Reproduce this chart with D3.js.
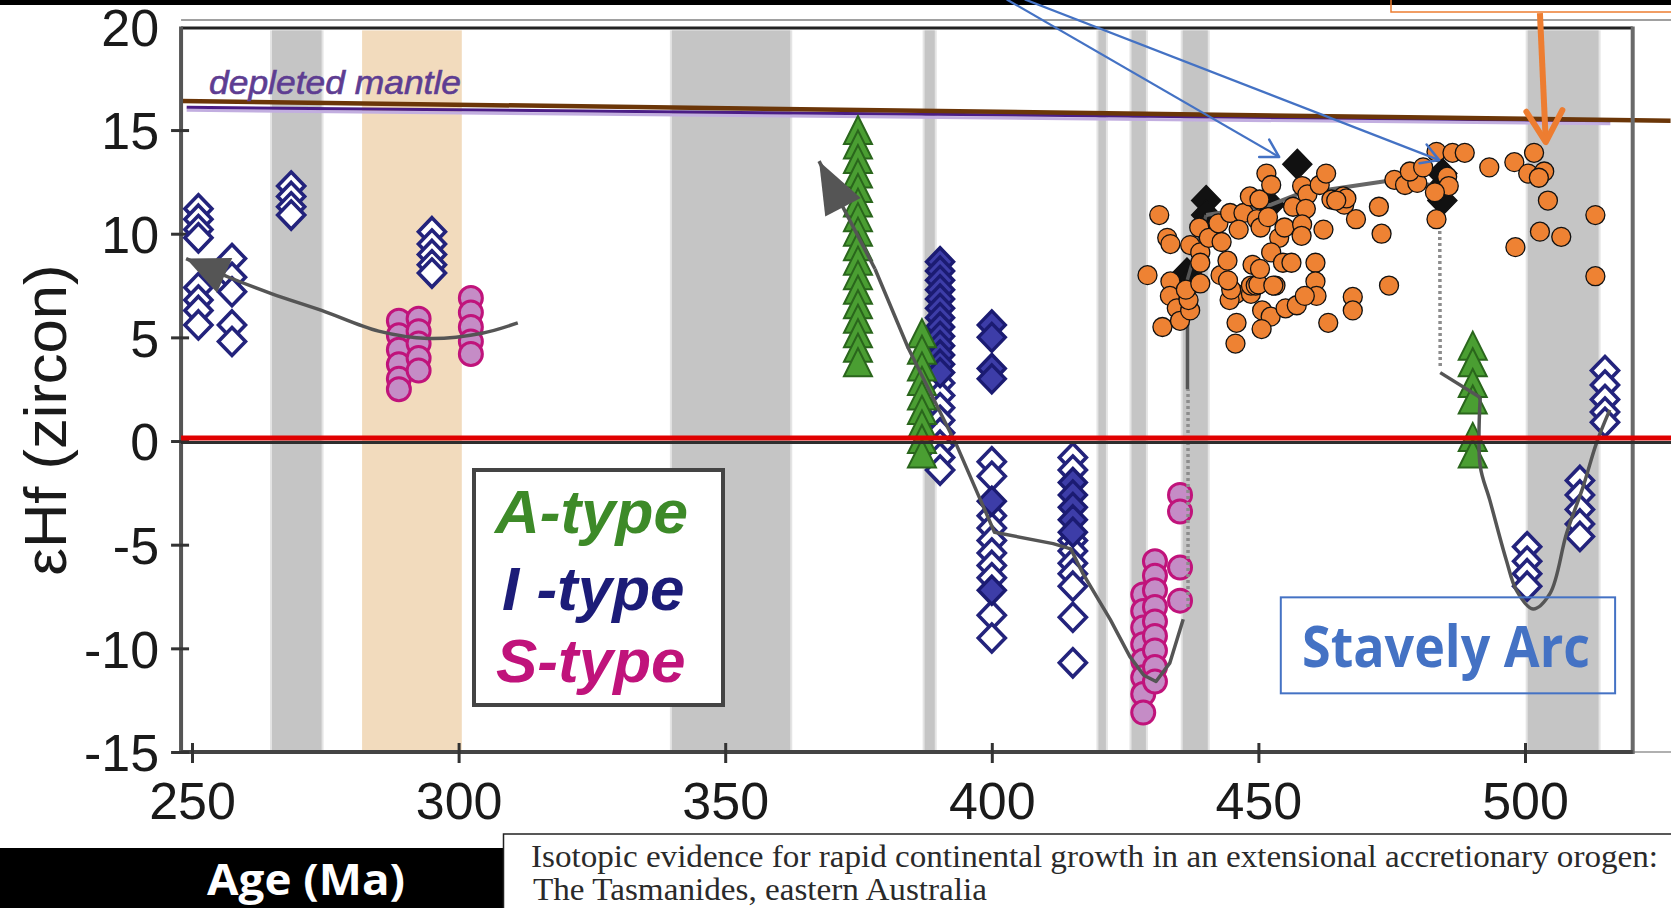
<!DOCTYPE html>
<html>
<head>
<meta charset="utf-8">
<script src="https://cdn.jsdelivr.net/npm/d3@7/dist/d3.min.js"></script>
<style>
  html, body { margin: 0; padding: 0; background: #fff; overflow: hidden; }
  svg { display: block; }
</style>
</head>
<body>
<svg id="chart" width="1671" height="908"></svg>
<script>
// ---- Axis ticks ----
const xTicks = [250, 300, 350, 400, 450, 500];
const yTicks = [20, 15, 10, 5, 0, -5, -10, -15];

// ---- Shaded age intervals (Ma) ----
const grayBands = [[265, 274.3], [340, 362.2], [387.4, 389.3], [420, 421.4], [426.2, 428.9], [435.8, 440.5], [500.5, 513.8]];
const peachBands = [[281.9, 300.6]];

// ---- Reference evolution lines: [age, εHf] ----
const depletedMantle = [[249, 16.1], [516, 15.45]];
const mantleRefLine = [[248, 16.4], [527.3, 15.45]];

// ---- I-type granites (open and filled diamonds) ----
const iTypeOpen = [
  [251.2, 11.2], [251.2, 10.7], [251.2, 10.2], [251.2, 9.8], [251.2, 7.4], [251.2, 6.8], [251.2, 6.3], [251.2, 5.6],
  [257.5, 8.8], [257.5, 7.9], [257.5, 7.2], [257.5, 5.6], [257.5, 4.8],
  [268.6, 12.3], [268.6, 11.8], [268.6, 11.3], [268.6, 10.9],
  [295, 10.1], [295, 9.5], [295, 9.0], [295, 8.5], [295, 8.1],
  [390.3, 2.8], [390.3, 2.2], [390.3, 1.6], [390.3, 1.0], [390.3, 0.4], [390.3, -0.2], [390.3, -0.8], [390.3, -1.4],
  [400, -1.0], [400, -1.7], [400, -3.6], [400, -4.2], [400, -4.8], [400, -5.4], [400, -6.0], [400, -6.6], [400, -8.4], [400, -9.5],
  [415.2, -0.8], [415.2, -1.4], [415.2, -4.8], [415.2, -5.3], [415.2, -5.9], [415.2, -6.4], [415.2, -7.0], [415.2, -8.5], [415.2, -10.7],
  [500.4, -5.1], [500.4, -5.8], [500.4, -6.4], [500.4, -7.0],
  [510.3, -1.9], [510.3, -2.6], [510.3, -3.3], [510.3, -4.0], [510.3, -4.6],
  [515, 3.4], [515, 2.7], [515, 2.0], [515, 1.4], [515, 0.9]
];
const iTypeFilled = [
  [390.3, 8.65], [390.3, 8.2], [390.3, 7.75], [390.3, 7.3], [390.3, 6.85], [390.3, 6.4], [390.3, 5.95],
  [390.3, 5.5], [390.3, 5.05], [390.3, 4.6], [390.3, 4.15], [390.3, 3.7], [390.3, 3.3],
  [400, 5.6], [400, 5.0], [400, 3.5], [400, 3.0], [400, -2.9], [400, -7.2],
  [415.2, -2.0], [415.2, -2.6], [415.2, -3.2], [415.2, -3.8], [415.2, -4.4]
];

// ---- S-type granites (circles) ----
const sType = [
  [288.8, 5.8], [288.8, 5.1], [288.8, 4.4], [288.8, 3.7], [288.8, 3.0], [288.8, 2.5],
  [292.5, 5.9], [292.5, 5.3], [292.5, 4.7], [292.5, 4.0], [292.5, 3.4],
  [302.3, 6.9], [302.3, 6.2], [302.3, 5.5], [302.3, 4.8], [302.3, 4.2],
  [428.4, -7.4], [428.4, -8.2], [428.4, -9.0], [428.4, -9.8], [428.4, -10.6], [428.4, -11.4], [428.4, -12.2], [428.4, -13.1],
  [430.6, -5.8], [430.6, -6.5], [430.6, -7.2], [430.6, -8.0], [430.6, -8.7], [430.6, -9.4], [430.6, -10.1], [430.6, -10.9], [430.6, -11.6],
  [435.3, -2.6], [435.3, -3.4], [435.3, -6.1], [435.3, -7.7]
];

// ---- A-type granites (triangles) ----
const aType = [
  [374.9, 15.0], [374.9, 14.3], [374.9, 13.6], [374.9, 12.9], [374.9, 12.2], [374.9, 11.5], [374.9, 10.8], [374.9, 10.1],
  [374.9, 9.4], [374.9, 8.7], [374.9, 8.0], [374.9, 7.3], [374.9, 6.6], [374.9, 5.9], [374.9, 5.2], [374.9, 4.5], [374.9, 3.8],
  [386.9, 5.2], [386.9, 4.4], [386.9, 3.6], [386.9, 2.9], [386.9, 2.2], [386.9, 1.5], [386.9, 0.8], [386.9, 0.1], [386.9, -0.6],
  [490.2, 4.6], [490.2, 3.8], [490.2, 2.8], [490.2, 2.0], [490.2, 0.2], [490.2, -0.6]
];

// ---- Black diamonds ----
const blackDiamonds = [
  [440.2, 11.6], [440.2, 10.9], [440.2, 10.3], [436.6, 8.1], [436.6, 7.5], [452.2, 11.4], [457.3, 13.35],
  [484.5, 12.9], [484.5, 12.3], [484.5, 11.6]
];

// ---- Stavely Arc zircons (orange circles) ----
const stavelyArc = [
  [431.4, 10.9], [432.9, 9.8], [433.5, 9.5], [429.2, 8.0], [433.5, 7.7], [433.4, 7.0], [434.7, 6.4], [432.0, 5.5],
  [435.3, 5.8], [437.2, 6.3], [436.9, 6.8], [436.4, 7.3], [437.2, 9.45], [438.9, 10.3], [439.1, 9.1], [439.1, 8.6],
  [439.1, 7.6], [440.7, 9.8], [442.5, 10.5], [443.1, 9.6], [444.7, 11.0], [447.2, 11.0], [446.3, 10.2], [448.4, 11.8],
  [450.2, 11.65], [449.7, 10.7], [450.4, 10.3], [451.5, 12.9], [452.4, 12.35], [451.8, 10.8], [453.9, 9.8], [454.9, 10.3],
  [456.5, 11.3], [458.2, 12.3], [459.2, 11.9], [458.9, 11.2], [458.2, 10.45], [458.1, 9.9], [461.5, 12.35], [462.7, 12.9],
  [463.7, 11.65], [465.9, 11.8], [466.1, 11.4], [462.2, 10.2], [442.9, 8.0], [444.2, 8.7], [445.8, 7.1], [444.6, 6.8],
  [444.9, 7.3], [444.3, 7.75], [445.9, 5.7], [445.7, 4.7], [448.9, 8.5], [448.6, 7.1], [448.6, 7.5], [449.5, 7.5],
  [450.0, 7.55], [450.3, 8.3], [452.4, 9.1], [454.6, 8.6], [456.2, 8.6], [453.2, 7.5], [452.8, 7.5], [450.7, 6.3],
  [452.3, 6.0], [455.1, 6.4], [457.2, 6.55], [450.6, 5.4], [460.7, 8.6], [460.7, 7.7], [460.9, 7.0], [458.7, 7.0],
  [463.1, 5.7], [466.5, 11.7], [464.6, 11.6], [468.3, 10.7], [472.6, 11.3], [473.1, 10.0], [474.5, 7.5], [467.7, 6.95],
  [467.7, 6.3], [475.5, 12.6], [477.5, 12.35], [479.8, 12.45], [478.4, 13.0], [480.9, 13.2], [483.4, 13.95], [486.4, 13.9],
  [488.7, 13.9], [485.4, 12.75], [485.7, 12.3], [483.1, 12.0], [483.4, 10.7], [493.3, 13.2], [498.0, 13.45], [501.7, 13.9],
  [500.6, 12.9], [503.6, 13.0], [502.6, 12.7], [504.3, 11.6], [502.8, 10.1], [506.8, 9.85], [498.2, 9.35], [513.2, 10.9],
  [513.2, 7.95]
];

// ---- Trend lines ----
const trendWest = [[311.1, 5.7], [304.4, 5.2], [294.3, 4.95], [285, 5.3], [274.3, 6.3], [265, 7.1], [256.9, 7.9], [248.9, 8.8]];
const trendCentralArrow = [[378.1, 8.3], [367.6, 13.5]];
const trendCentral = [[378.1, 8.3], [384.3, 4.5], [393.4, -0.2], [397.8, -2.8], [400.5, -4.4], [411.5, -4.95], [414.8, -5.2],
  [417.1, -6.4], [422.2, -8.6], [425.9, -10.4], [428.5, -11.3], [430.8, -11.6], [433.4, -10.7], [435.9, -8.6]];
const trendDottedA = [[436.8, -8.0], [436.8, 2.5]];
const trendRiseA = [[436.7, 2.5], [436.7, 7.8], [440.2, 10.9]];
const trendNorth = [[440.2, 10.9], [452.4, 11.4], [457.3, 11.9], [469, 12.35], [474.4, 12.55], [484.5, 12.3]];
const trendDottedB = [[484.0, 11.0], [484.1, 3.6]];
const trendEastStep = [[484.1, 3.3], [491.6, 2.1]];
const trendEast = [[491.6, 2.1], [491.6, -1.2], [493.4, -2.85], [496.5, -5.75], [498.4, -7.2], [501.5, -8.1],
  [504.7, -7.35], [507.8, -4.45], [510.9, -2.2], [513.4, -0.1], [515.9, 1.5]];

// ---- Annotation arrows and box (data units) ----
const blueArrows = [[[402.8, 21.3], [453.9, 13.7]], [[406.2, 21.3], [483.9, 13.55]]];
const orangeArrow = [[502.8, 20.64], [503.9, 14.42]];
const stavelyBox = { a0: 454.2, a1: 516.9, v0: -7.54, v1: -12.17 };

// ---- Legend ----
const legendItems = [
  { label: "A-type", color: "#3d8a28" },
  { label: "I -type", color: "#1c1c78" },
  { label: "S-type", color: "#c0137b" }
];

// ================= Drawing =================
const W = 1671, H = 908;
const ageMin = 247.95, ageMax = 520.2;
const x = d3.scaleLinear().domain([250, 500]).range([192, 1525]);
const y = d3.scaleLinear().domain([-15, 20]).range([752, 26.4]);
const svg = d3.select("#chart");

const line = d3.line().x(d => x(d[0])).y(d => y(d[1]));

const diamondPath = (w, h) => `M0,${-h / 2}L${w / 2},0L0,${h / 2}L${-w / 2},0Z`;
const trianglePath = (w, h) => `M0,${-h / 2}L${w / 2},${h / 2}L${-w / 2},${h / 2}Z`;

// Outer light frame line
svg.append("line").attr("x1", x(ageMin)).attr("x2", W).attr("y1", 20).attr("y2", 20)
  .attr("stroke", "#a0a0a0").attr("stroke-width", 2);
svg.append("line").attr("x1", x(ageMax)).attr("x2", W).attr("y1", y(-15)).attr("y2", y(-15))
  .attr("stroke", "#b0b0b0").attr("stroke-width", 2);

// Shaded intervals
const bandTop = y(20) + 4, bandBot = y(-15);
const bands = svg.append("g");
grayBands.forEach(b => {
  bands.append("rect").attr("x", x(b[0]) - 2).attr("width", x(b[1]) - x(b[0]) + 4)
    .attr("y", bandTop).attr("height", bandBot - bandTop).attr("fill", "#e4e4e4");
  bands.append("rect").attr("x", x(b[0])).attr("width", x(b[1]) - x(b[0]))
    .attr("y", bandTop).attr("height", bandBot - bandTop).attr("fill", "#c5c5c5");
});
peachBands.forEach(b => {
  bands.append("rect").attr("x", x(b[0])).attr("width", x(b[1]) - x(b[0]))
    .attr("y", bandTop).attr("height", bandBot - bandTop).attr("fill", "#f2dbbd");
});

// Depleted mantle and reference line
svg.append("path").datum(depletedMantle.map(d => [d[0], d[1] - 0.15])).attr("d", line)
  .attr("stroke", "#c2aee0").attr("stroke-width", 3).attr("fill", "none");
svg.append("path").datum(depletedMantle).attr("d", line)
  .attr("stroke", "#4b1d86").attr("stroke-width", 3).attr("fill", "none");
svg.append("path").datum(mantleRefLine).attr("d", line)
  .attr("stroke", "#6b3608").attr("stroke-width", 4.5).attr("fill", "none");
svg.append("text").attr("x", 209).attr("y", 94)
  .attr("font-family", "Liberation Sans, Arial, sans-serif").attr("font-style", "italic")
  .attr("font-size", 34).attr("fill", "#5e3d92").attr("stroke", "#5e3d92").attr("stroke-width", 0.6)
  .attr("textLength", 252).attr("lengthAdjust", "spacingAndGlyphs")
  .text("depleted mantle");

// Frame: top line, right border, axes
svg.append("line").attr("x1", x(ageMin)).attr("x2", x(ageMax)).attr("y1", y(20) + 1.5).attr("y2", y(20) + 1.5)
  .attr("stroke", "#222").attr("stroke-width", 3);
svg.append("line").attr("x1", x(ageMax)).attr("x2", x(ageMax)).attr("y1", y(20)).attr("y2", y(-15) + 2)
  .attr("stroke", "#6a6a6a").attr("stroke-width", 4);
svg.append("line").attr("x1", x(ageMin)).attr("x2", x(ageMin)).attr("y1", y(20)).attr("y2", y(-15) + 2)
  .attr("stroke", "#555").attr("stroke-width", 4);
svg.append("line").attr("x1", x(ageMin)).attr("x2", x(ageMax)).attr("y1", y(-15)).attr("y2", y(-15))
  .attr("stroke", "#444").attr("stroke-width", 4);

const tickFont = "Liberation Sans, Arial, sans-serif";
const xAxis = svg.append("g").attr("transform", `translate(0,${y(-15)})`)
  .call(d3.axisBottom(x).tickValues(xTicks).tickFormat(d => String(d)).tickSizeOuter(0));
xAxis.select(".domain").remove();
xAxis.selectAll(".tick line").attr("y1", -9).attr("y2", 11).attr("stroke", "#333").attr("stroke-width", 3);
xAxis.selectAll(".tick text").attr("y", 67).attr("dy", null)
  .attr("font-family", tickFont).attr("font-size", 52).attr("fill", "#1a1a1a");

const yAxis = svg.append("g").attr("transform", `translate(${x(ageMin)},0)`)
  .call(d3.axisLeft(y).tickValues(yTicks).tickFormat(d => String(d)).tickSizeOuter(0));
yAxis.select(".domain").remove();
yAxis.selectAll(".tick line").attr("x1", -10).attr("x2", 8).attr("stroke", "#333").attr("stroke-width", 3)
  .filter(d => d === 20).remove();
yAxis.selectAll(".tick text").attr("x", -22).attr("dy", "0.36em")
  .attr("font-family", tickFont).attr("font-size", 52).attr("fill", "#1a1a1a");

// Y axis title
svg.append("text").attr("transform", "translate(66,420) rotate(-90)")
  .attr("text-anchor", "middle").attr("font-family", tickFont).attr("font-size", 60)
  .attr("fill", "#1a1a1a").attr("textLength", 311).attr("lengthAdjust", "spacingAndGlyphs")
  .text("εHf (zircon)");

// I-type diamonds
svg.append("g").selectAll("path").data(iTypeOpen).join("path")
  .attr("transform", d => `translate(${x(d[0])},${y(d[1])})`)
  .attr("d", diamondPath(27, 28)).attr("fill", "#fff").attr("stroke", "#23237c").attr("stroke-width", 3.6);
svg.append("g").selectAll("path").data(iTypeFilled).join("path")
  .attr("transform", d => `translate(${x(d[0])},${y(d[1])})`)
  .attr("d", diamondPath(27, 28)).attr("fill", "#3d3da8").attr("stroke", "#1b1b72").attr("stroke-width", 3.4);

// S-type circles
svg.append("g").selectAll("circle").data(sType).join("circle")
  .attr("cx", d => x(d[0])).attr("cy", d => y(d[1])).attr("r", 11.5)
  .attr("fill", "#c58cc6").attr("stroke", "#c0137b").attr("stroke-width", 3);

// A-type triangles
svg.append("g").selectAll("path").data(aType).join("path")
  .attr("transform", d => `translate(${x(d[0])},${y(d[1])})`)
  .attr("d", trianglePath(28, 28)).attr("fill", "#4a9e32").attr("stroke", "#2a661c").attr("stroke-width", 2);

// Black diamonds
svg.append("g").selectAll("path").data(blackDiamonds).join("path")
  .attr("transform", d => `translate(${x(d[0])},${y(d[1])})`)
  .attr("d", diamondPath(29, 30)).attr("fill", "#111").attr("stroke", "#111").attr("stroke-width", 1.5);

// Trend lines
const trendColor = "#555";
const trends = svg.append("g").attr("fill", "none").attr("stroke-linejoin", "round");
trends.append("path").datum(trendWest).attr("d", line.curve(d3.curveCatmullRom.alpha(0.5)))
  .attr("stroke", trendColor).attr("stroke-width", 3.5);
line.curve(d3.curveLinear);
trends.append("path").datum(trendCentralArrow).attr("d", line).attr("stroke", trendColor).attr("stroke-width", 3.5);
trends.append("path").datum(trendCentral).attr("d", line).attr("stroke", trendColor).attr("stroke-width", 3.5);
trends.append("path").datum(trendDottedA).attr("d", line).attr("stroke", "#8c8c8c").attr("stroke-width", 3.5).attr("stroke-dasharray", "3,3");
trends.append("path").datum(trendRiseA).attr("d", line).attr("stroke", trendColor).attr("stroke-width", 3.5);
trends.append("path").datum(trendNorth).attr("d", line).attr("stroke", "#666").attr("stroke-width", 4);
trends.append("path").datum(trendDottedB).attr("d", line).attr("stroke", "#8c8c8c").attr("stroke-width", 3.5).attr("stroke-dasharray", "3,3");
trends.append("path").datum(trendEastStep).attr("d", line).attr("stroke", trendColor).attr("stroke-width", 3.5);
trends.append("path").datum(trendEast).attr("d", line.curve(d3.curveCatmullRom.alpha(0.5)))
  .attr("stroke", trendColor).attr("stroke-width", 3.5);
line.curve(d3.curveLinear);

function arrowHead(g, tipD, fromD, len, half, fill) {
  const tx = x(tipD[0]), ty = y(tipD[1]), fx = x(fromD[0]), fy = y(fromD[1]);
  const dx = tx - fx, dy = ty - fy, n = Math.hypot(dx, dy);
  const ux = dx / n, uy = dy / n, bx = tx - ux * len, by = ty - uy * len;
  g.append("path").attr("d", `M${tx},${ty}L${bx - uy * half},${by + ux * half}L${bx + uy * half},${by - ux * half}Z`)
    .attr("fill", fill).attr("stroke", "none");
}
arrowHead(trends, trendWest[trendWest.length - 1], trendWest[trendWest.length - 2], 42, 19, trendColor);
arrowHead(trends, trendCentralArrow[1], trendCentralArrow[0], 52, 20, trendColor);

// Stavely Arc zircons
svg.append("g").selectAll("circle").data(stavelyArc).join("circle")
  .attr("cx", d => x(d[0])).attr("cy", d => y(d[1])).attr("r", 9.5)
  .attr("fill", "#ee8233").attr("stroke", "#111").attr("stroke-width", 1.3);

// Zero line
svg.append("line").attr("x1", x(ageMin)).attr("x2", W).attr("y1", y(0) + 1.5).attr("y2", y(0) + 1.5)
  .attr("stroke", "#2e2e2e").attr("stroke-width", 3);
svg.append("line").attr("x1", x(ageMin)).attr("x2", W).attr("y1", y(0) - 3).attr("y2", y(0) - 3)
  .attr("stroke", "#e00000").attr("stroke-width", 5);

// Legend
const legend = svg.append("g");
legend.append("rect").attr("x", 474).attr("y", 470).attr("width", 249).attr("height", 235)
  .attr("fill", "#fff").attr("stroke", "#444").attr("stroke-width", 4);
const legendPos = [[495, 533], [502, 610], [496, 682]];
legendItems.forEach((it, i) => {
  legend.append("text").attr("x", legendPos[i][0]).attr("y", legendPos[i][1])
    .attr("font-family", tickFont).attr("font-weight", "bold").attr("font-style", "italic")
    .attr("font-size", 62).attr("fill", it.color).text(it.label);
});

// Top strip and orange frame
svg.append("rect").attr("x", 0).attr("y", 0).attr("width", W).attr("height", 5).attr("fill", "#000");
svg.append("rect").attr("x", 1391).attr("y", -6).attr("width", 400).attr("height", 18)
  .attr("fill", "none").attr("stroke", "#ed7d31").attr("stroke-width", 1.5);

// Annotation arrows
function chevron(g, tipD, fromD, len, color, width) {
  const tx = x(tipD[0]), ty = y(tipD[1]), fx = x(fromD[0]), fy = y(fromD[1]);
  const a = Math.atan2(fy - ty, fx - tx), s = Math.PI / 6;
  const p1 = [tx + len * Math.cos(a + s), ty + len * Math.sin(a + s)];
  const p2 = [tx + len * Math.cos(a - s), ty + len * Math.sin(a - s)];
  g.append("path").attr("d", `M${p1[0]},${p1[1]}L${tx},${ty}L${p2[0]},${p2[1]}`)
    .attr("fill", "none").attr("stroke", color).attr("stroke-width", width)
    .attr("stroke-linecap", "round").attr("stroke-linejoin", "round");
}
const ann = svg.append("g");
blueArrows.forEach(a => {
  ann.append("path").datum(a).attr("d", line).attr("stroke", "#4472c4").attr("stroke-width", 2.2).attr("fill", "none");
  chevron(ann, a[1], a[0], 20, "#4472c4", 2.5);
});
ann.append("path").datum(orangeArrow).attr("d", line).attr("stroke", "#ed7d31").attr("stroke-width", 6).attr("fill", "none");
chevron(ann, orangeArrow[1], orangeArrow[0], 36, "#ed7d31", 6);

// Stavely Arc label
ann.append("rect").attr("x", x(stavelyBox.a0)).attr("y", y(stavelyBox.v0))
  .attr("width", x(stavelyBox.a1) - x(stavelyBox.a0)).attr("height", y(stavelyBox.v1) - y(stavelyBox.v0))
  .attr("fill", "none").attr("stroke", "#4472c4").attr("stroke-width", 2);
ann.append("text").attr("x", 1302).attr("y", 667)
  .attr("font-family", "Open Sans, sans-serif").attr("font-weight", "bold").attr("font-size", 58)
  .attr("fill", "#4472c4").attr("textLength", 288).attr("lengthAdjust", "spacingAndGlyphs")
  .text("Stavely Arc");

// Bottom: axis title bar and citation box
svg.append("rect").attr("x", 0).attr("y", 848).attr("width", 503).attr("height", 60).attr("fill", "#000");
svg.append("text").attr("x", 306).attr("y", 895).attr("text-anchor", "middle")
  .attr("font-family", "Open Sans, sans-serif").attr("font-weight", "bold").attr("font-size", 43)
  .attr("fill", "#fff").attr("textLength", 198).attr("lengthAdjust", "spacingAndGlyphs").text("Age (Ma)");
svg.append("rect").attr("x", 503.5).attr("y", 834).attr("width", 1200).attr("height", 100)
  .attr("fill", "#fff").attr("stroke", "#222").attr("stroke-width", 1.5);
svg.append("text").attr("x", 531).attr("y", 867)
  .attr("font-family", "Liberation Serif, Times New Roman, serif").attr("font-size", 31).attr("fill", "#2a2a2a")
  .attr("textLength", 1127).attr("lengthAdjust", "spacingAndGlyphs")
  .text("Isotopic evidence for rapid continental growth in an extensional accretionary orogen:");
svg.append("text").attr("x", 533).attr("y", 900)
  .attr("font-family", "Liberation Serif, Times New Roman, serif").attr("font-size", 31).attr("fill", "#2a2a2a")
  .attr("textLength", 454).attr("lengthAdjust", "spacingAndGlyphs")
  .text("The Tasmanides, eastern Australia");
</script>
</body>
</html>
